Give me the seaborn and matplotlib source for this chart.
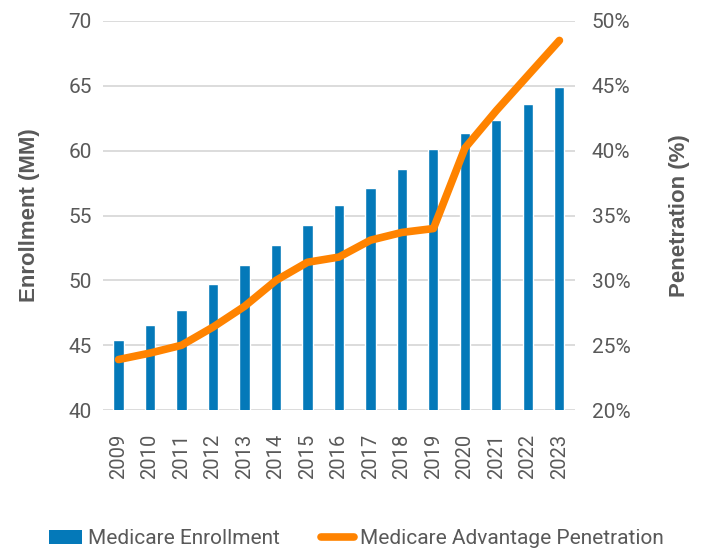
import numpy as np
import pandas as pd
import matplotlib
matplotlib.use("Agg")
import matplotlib.pyplot as plt
import seaborn as sns
from matplotlib import font_manager
from matplotlib.patches import Patch
from matplotlib.lines import Line2D
from matplotlib.ticker import FuncFormatter

years = ['2009', '2010', '2011', '2012', '2013', '2014', '2015', '2016',
         '2017', '2018', '2019', '2020', '2021', '2022', '2023']
enrollment = [45.4, 46.6, 47.7, 49.7, 51.2, 52.7, 54.3, 55.8,
              57.1, 58.6, 60.1, 61.4, 62.4, 63.6, 64.9]
penetration = [23.9, 24.4, 25.0, 26.4, 28.0, 30.0, 31.4, 31.8,
               33.1, 33.7, 34.0, 40.2, 43.1, 45.8, 48.5]

sns.set_style("white")

installed = {f.name for f in font_manager.fontManager.ttflist}
narrow = 'Liberation Sans Narrow' if 'Liberation Sans Narrow' in installed else 'Roboto'
plt.rcParams['font.family'] = [narrow, 'DejaVu Sans']

blue = '#0479b9'
orange = '#ff8300'
grey_txt = '#595959'

df = pd.DataFrame({'year': years, 'enrollment': enrollment, 'penetration': penetration})

fig = plt.figure(figsize=(7.04, 5.52), dpi=100)
ax = fig.add_axes([0.146, 0.257, 0.671, 0.705])

sns.barplot(data=df, x='year', y='enrollment', color=blue, width=0.32,
            saturation=1, ax=ax, zorder=2)
ax.set_ylim(40, 70)
ax.set_yticks([40, 45, 50, 55, 60, 65, 70])
ax.set_xlim(-0.5, len(years) - 0.5)
ax.grid(axis='y', color='#d9d9d9', linewidth=1.3, zorder=0)
ax.set_axisbelow(True)
for s in ax.spines.values():
    s.set_visible(False)
ax.tick_params(axis='both', length=0, labelsize=15, colors=grey_txt)
ax.tick_params(axis='x', labelrotation=90, labelsize=14.5, pad=17)
ax.tick_params(axis='y', pad=8)
ax.set_xlabel('')
ax.set_ylabel('Enrollment (MM)', fontsize=16, fontweight='bold', color=grey_txt,
              family='Liberation Sans', labelpad=20)

ax2 = ax.twinx()
sns.lineplot(x=np.arange(len(years)), y=df['penetration'], color=orange,
             linewidth=5.5, ax=ax2, zorder=3)
ax2.set_ylim(20, 50)
ax2.set_yticks([20, 25, 30, 35, 40, 45, 50])
ax2.yaxis.set_major_formatter(FuncFormatter(lambda v, p: f'{v:.0f}%'))
for s in ax2.spines.values():
    s.set_visible(False)
ax2.tick_params(axis='y', length=0, labelsize=15, colors=grey_txt, pad=12)
ax2.set_ylabel('Penetration (%)', fontsize=16, fontweight='bold', color=grey_txt,
               family='Liberation Sans', labelpad=28)

handles = [Patch(facecolor=blue, edgecolor='none'),
           Line2D([0], [0], color=orange, linewidth=5.5, solid_capstyle='round')]
fig.legend(handles, ['Medicare Enrollment', 'Medicare Advantage Penetration'],
           loc='center', bbox_to_anchor=(0.506, 0.024), ncol=2, frameon=False,
           fontsize=15, handlelength=1.6, handleheight=0.6, handletextpad=0.25,
           columnspacing=2.0, labelcolor=grey_txt)

fig.savefig('out.png', dpi=100)
